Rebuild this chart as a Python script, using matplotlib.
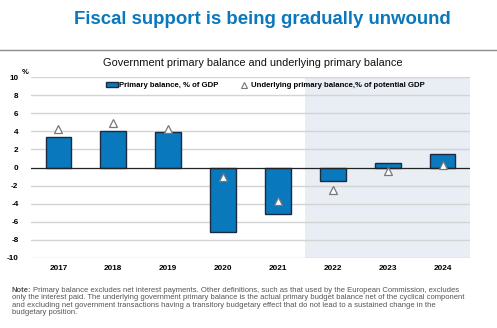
import matplotlib
matplotlib.use("Agg")
import matplotlib.pyplot as plt
from matplotlib.lines import Line2D
from matplotlib.patches import Patch
import numpy as np

years = ["2017", "2018", "2019", "2020", "2021", "2022", "2023", "2024"]
primary_balance = [3.4, 4.0, 3.9, -7.2, -5.15, -1.55, 0.5, 1.45]
underlying_balance = [4.3, 4.9, 4.3, -1.1, -3.7, -2.5, -0.4, 0.3]
yticks = [-10, -8, -6, -4, -2, 0, 2, 4, 6, 8, 10]

title = "Fiscal support is being gradually unwound"
subtitle = "Government primary balance and underlying primary balance"
legend_bar = "Primary balance, % of GDP"
legend_tri = "Underlying primary balance,% of potential GDP"
note_lines = [
    "Primary balance excludes net interest payments. Other definitions, such as that used by the European Commission, excludes",
    "only the interest paid. The underlying government primary balance is the actual primary budget balance net of the cyclical component",
    "and excluding net government transactions having a transitory budgetary effect that do not lead to a sustained change in the",
    "budgetary position.",
]

SANS = ["Liberation Sans", "DejaVu Sans"]

W, H = 497, 328
fig = plt.figure(figsize=(W / 100, H / 100), dpi=100)
fig.patch.set_facecolor("white")

ax = fig.add_axes([31 / W, 1 - 257.7 / H, (470 - 31) / W, (257.7 - 77.3) / H])
ax.set_facecolor("white")
x = np.arange(len(years))

ax.axvspan(4.5, 7.5, color="#e9eef5", zorder=0, lw=0)
for t in yticks:
    if t != 0:
        ax.axhline(t, color="#d4d4d4", lw=1.0, zorder=1)
ax.bar(x, primary_balance, width=0.47, color="#0a78bd", edgecolor="#1b2a3f",
       linewidth=1.0, zorder=3)
ax.axhline(0, color="#222222", lw=0.9, zorder=4)
ax.plot(x, underlying_balance, linestyle="none", marker="^", markersize=6,
        markerfacecolor="white", markeredgecolor="#777777", markeredgewidth=0.9,
        zorder=5)

ax.set_xlim(-0.5, 7.5)
ax.set_ylim(-10, 10)
ax.set_xticks(x)
ax.set_xticklabels(years, fontfamily=SANS, fontweight="bold", fontsize=5.9)
ax.set_yticks(yticks)
ax.set_yticklabels([str(t) for t in yticks], fontfamily=SANS, fontweight="bold", fontsize=5.9)
ax.tick_params(axis="both", length=0, pad=9)
ax.tick_params(axis="x", pad=5)
for s in ax.spines.values():
    s.set_visible(False)

fig.text(22 / W, 1 - 72 / H, "%", fontfamily=SANS, fontweight="bold", fontsize=5.5,
         ha="left", va="center")

handles = [Patch(facecolor="#0a78bd", edgecolor="#1b2a3f", linewidth=1.0),
           Line2D([], [], linestyle="none", marker="^", markersize=4.5,
                  markerfacecolor="white", markeredgecolor="#777777", markeredgewidth=0.8)]
leg = ax.legend(handles, [legend_bar, legend_tri], loc="upper left",
                bbox_to_anchor=((101 - 31) / (470 - 31), 1.0), ncol=2, frameon=False,
                prop={"family": SANS, "weight": "bold", "size": 5.6},
                handlelength=1.6, handleheight=0.7, handletextpad=0.15, columnspacing=2.4,
                borderaxespad=0.4, borderpad=0.2)

fig.text(262 / W, 1 - 20 / H, title, fontfamily=SANS, fontweight="bold", fontsize=13.4,
         color="#0a78bd", ha="center", va="center")
fig.add_artist(Line2D([0, 1], [1 - 50 / H, 1 - 50 / H], color="#8c8c8c", lw=1.0,
                      transform=fig.transFigure))
fig.text(253 / W, 1 - 63 / H, subtitle, fontfamily=SANS, fontsize=7.9,
         color="#111111", ha="center", va="center")

y0 = 290.7
fs_note = 5.5
for i, line in enumerate(note_lines):
    yy = 1 - (y0 + i * 7.2) / H
    if i == 0:
        t = fig.text(12 / W, yy, "Note:", fontfamily=SANS, fontweight="bold",
                     fontsize=fs_note, color="#555555", ha="left", va="center")
        fig.canvas.draw()
        bb = t.get_window_extent()
        fig.text(bb.x1 / W + 1.5 / W, yy, line, fontfamily=SANS, fontsize=fs_note,
                 color="#555555", ha="left", va="center")
    else:
        fig.text(12 / W, yy, line, fontfamily=SANS, fontsize=fs_note, color="#555555",
                 ha="left", va="center")

fig.savefig("out.png", dpi=100)
